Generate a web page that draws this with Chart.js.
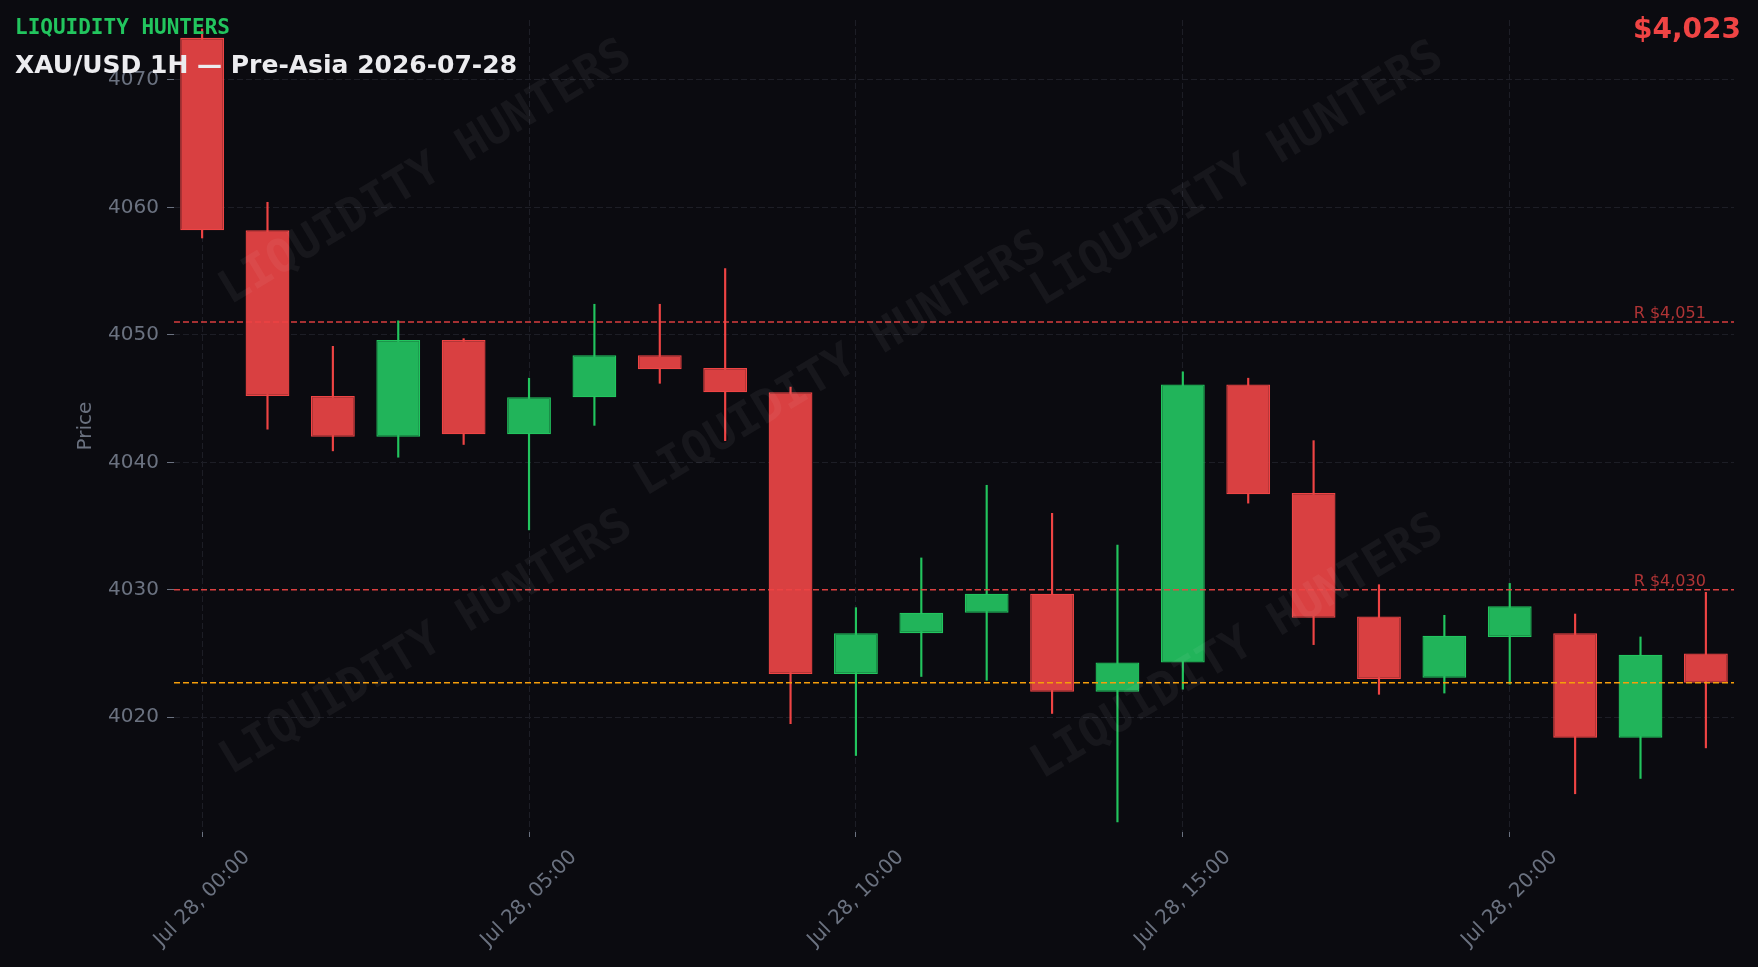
<!DOCTYPE html>
<html>
<head>
<meta charset="utf-8">
<title>XAU/USD 1H — Pre-Asia 2026-07-28</title>
<script src="https://cdn.jsdelivr.net/npm/chart.js@4.4.1/dist/chart.umd.min.js"></script>
<style>
  html, body { margin: 0; padding: 0; background: #0b0b10; }
  #wrap { position: relative; width: 1758px; height: 967px; }
</style>
</head>
<body>
<div id="wrap"><canvas id="myChart"></canvas></div>
<script>
// Velas 1H, 28 jul (hora 0..23)
const hours  = [0, 1, 2, 3, 4, 5, 6, 7, 8, 9, 10, 11, 12, 13, 14, 15, 16, 17, 18, 19, 20, 21, 22, 23];
const opens  = [4073.3, 4058.2, 4045.2, 4042.0, 4049.6, 4042.2, 4045.1, 4048.4, 4047.4, 4045.5, 4023.4, 4026.6,
                4028.2, 4029.7, 4022.0, 4024.3, 4046.1, 4037.6, 4027.9, 4023.1, 4026.3, 4026.6, 4018.4, 4025.0];
const highs  = [4074.0, 4060.4, 4049.1, 4051.1, 4049.7, 4046.6, 4052.4, 4052.4, 4055.2, 4045.9, 4028.6, 4032.5,
                4038.2, 4036.0, 4033.5, 4047.1, 4046.6, 4041.7, 4030.4, 4028.0, 4030.5, 4028.1, 4026.3, 4029.8];
const lows   = [4057.6, 4042.6, 4040.9, 4040.4, 4041.4, 4034.7, 4042.9, 4046.2, 4041.7, 4019.5, 4017.0, 4023.2,
                4022.9, 4020.3, 4011.8, 4022.2, 4036.8, 4025.7, 4021.8, 4021.9, 4022.6, 4014.0, 4015.2, 4017.6];
const closes = [4058.2, 4045.2, 4042.0, 4049.6, 4042.2, 4045.1, 4048.4, 4047.3, 4045.5, 4023.4, 4026.6, 4028.2,
                4029.7, 4022.0, 4024.3, 4046.1, 4037.5, 4027.8, 4023.0, 4026.4, 4028.7, 4018.4, 4024.9, 4022.7];

// Niveles
const resistances = [4051, 4030];
const currentPrice = 4022.7;

// Ejes
const tickHours  = [0, 5, 10, 15, 20];
const tickLabels = ['Jul 28, 00:00', 'Jul 28, 05:00', 'Jul 28, 10:00', 'Jul 28, 15:00', 'Jul 28, 20:00'];
const priceTicks = [4020, 4030, 4040, 4050, 4060, 4070];
const xMin = -0.43, xMax = 23.43;
const yMin = 4011.0, yMax = 4074.7;

const RED = '#ef4444', GREEN = '#22c55e';
const RED_FILL = '#d94041', GREEN_FILL = '#21b45a';
const GRAY = '#6b7280';
const FONT = '"DejaVu Sans", sans-serif';
const MONO = '"DejaVu Sans Mono", monospace';

const isUp = closes.map((c, i) => c >= opens[i]);

const levelSet = (y, color) => ({
    type: 'line',
    data: [{x: xMin, y: y}, {x: xMax, y: y}],
    borderColor: color,
    borderWidth: 1.5,
    borderDash: [6, 3],
    pointRadius: 0,
    order: 0
});

// marca de agua + textos
const overlay = {
    id: 'overlay',
    afterDatasetsDraw(chart) {
        const {ctx, chartArea: a, scales: {x, y}} = chart;
        ctx.save();
        ctx.beginPath();
        ctx.rect(a.left, a.top, a.right - a.left, a.bottom - a.top);
        ctx.clip();
        ctx.fillStyle = 'rgba(255,255,255,0.05)';
        ctx.font = 'bold 46px ' + MONO;
        ctx.textAlign = 'center';
        ctx.textBaseline = 'middle';
        [[0.1615, 0.189], [0.4276, 0.425], [0.682, 0.191], [0.162, 0.768], [0.682, 0.773]].forEach(([fx, fy]) => {
            ctx.save();
            ctx.translate(a.left + fx * (a.right - a.left), a.top + fy * (a.bottom - a.top));
            ctx.rotate(-31 * Math.PI / 180);
            ctx.fillText('LIQUIDITY HUNTERS', 0, 0);
            ctx.restore();
        });
        ctx.restore();

        // etiquetas de resistencia
        ctx.save();
        ctx.fillStyle = 'rgba(239,68,68,0.72)';
        ctx.font = '16px ' + FONT;
        ctx.textAlign = 'right';
        ctx.textBaseline = 'alphabetic';
        resistances.forEach(r => {
            ctx.fillText('R $' + r.toLocaleString('en-US'),
                x.getPixelForValue(hours[hours.length - 1]), y.getPixelForValue(r) - 4);
        });
        ctx.restore();
    },
    afterDraw(chart) {
        const {ctx, chartArea: a, scales: {x}} = chart;
        ctx.save();
        // etiquetas del eje x, rotadas 45 y centradas
        ctx.fillStyle = GRAY;
        ctx.font = '20px ' + FONT;
        ctx.textAlign = 'center';
        ctx.textBaseline = 'middle';
        tickHours.forEach((h, i) => {
            const w = ctx.measureText(tickLabels[i]).width;
            const half = (w + 23) * Math.SQRT1_2 / 2;
            ctx.save();
            ctx.translate(x.getPixelForValue(h), a.bottom + 14 + half);
            ctx.rotate(-Math.PI / 4);
            ctx.fillText(tickLabels[i], 0, 0);
            ctx.restore();
        });

        ctx.textBaseline = 'alphabetic';
        ctx.textAlign = 'left';
        ctx.fillStyle = GREEN;
        ctx.font = 'bold 21px ' + MONO;
        ctx.fillText('LIQUIDITY HUNTERS', 15, 34);
        ctx.fillStyle = '#ececef';
        ctx.font = 'bold 25px ' + FONT;
        ctx.fillText('XAU/USD 1H — Pre-Asia 2026-07-28', 15, 73);
        ctx.textAlign = 'right';
        ctx.fillStyle = RED;
        ctx.font = 'bold 28px ' + FONT;
        ctx.fillText('$' + Math.round(currentPrice).toLocaleString('en-US'), 1741, 38);
        ctx.restore();
    }
};

Chart.defaults.font.family = FONT;
Chart.defaults.color = GRAY;

const ctx = document.getElementById('myChart').getContext('2d');
const myChart = new Chart(ctx, {
    type: 'bar',
    data: {
        datasets: [
            {
                label: 'Cuerpo',
                data: hours.map((h, i) => ({x: h, y: [opens[i], closes[i]]})),
                backgroundColor: isUp.map(u => u ? GREEN_FILL : RED_FILL),
                borderColor: isUp.map(u => u ? GREEN : RED),
                borderWidth: 1.3,
                borderSkipped: false,
                barPercentage: 0.67,
                categoryPercentage: 1,
                grouped: false,
                order: 1
            },
            {
                label: 'Mecha',
                data: hours.map((h, i) => ({x: h, y: [lows[i], highs[i]]})),
                backgroundColor: isUp.map(u => u ? GREEN : RED),
                barThickness: 1.5,
                grouped: false,
                order: 2
            },
            levelSet(resistances[0], 'rgba(239,68,68,0.9)'),
            levelSet(resistances[1], 'rgba(239,68,68,0.9)'),
            levelSet(currentPrice, '#f59e0b')
        ]
    },
    options: {
        responsive: true,
        maintainAspectRatio: false,
        animation: false,
        layout: {padding: {top: 16, right: 24, left: 0, bottom: 0}},
        plugins: {legend: {display: false}, tooltip: {enabled: false}},
        scales: {
            x: {
                type: 'linear',
                offset: false,
                min: xMin,
                max: xMax,
                afterBuildTicks: axis => { axis.ticks = tickHours.map(v => ({value: v})); },
                afterFit: axis => { axis.height = 135; },
                ticks: {display: false},
                grid: {offset: false, color: '#1d1e26', lineWidth: 1, tickColor: GRAY, tickLength: 5},
                border: {display: false, dash: [6, 3]}
            },
            y: {
                min: yMin,
                max: yMax,
                afterBuildTicks: axis => { axis.ticks = priceTicks.map(v => ({value: v})); },
                afterFit: axis => { axis.width = 174; },
                ticks: {color: GRAY, font: {size: 20}, padding: 8, callback: v => String(v)},
                grid: {color: '#1d1e26', lineWidth: 1, tickColor: GRAY, tickLength: 7},
                border: {display: false, dash: [6, 3]},
                title: {display: true, text: 'Price', color: GRAY, font: {size: 20}, padding: {top: 74, bottom: 0}}
            }
        }
    },
    plugins: [overlay]
});
</script>
</body>
</html>
